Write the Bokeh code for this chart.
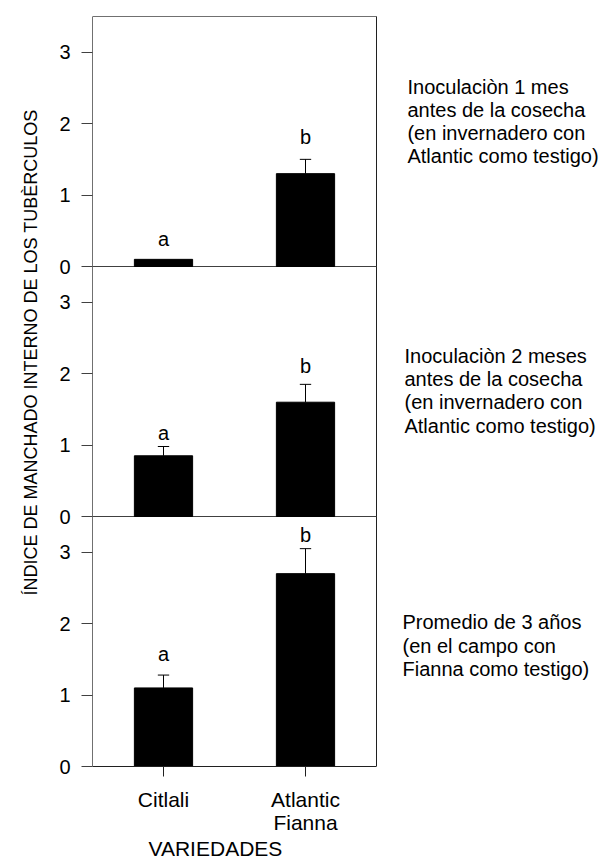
import math
from bokeh.plotting import figure
from bokeh.models import FixedTicker, Label, Range1d, Title
from bokeh.embed import file_html
from bokeh.resources import INLINE

# ---------------- data ----------------
varieties = ["Citlali", "Atlantic\nFianna"]
# panel order: top, middle, bottom
panel_titles = [
    ["Inoculaciòn 1 mes", "antes de la cosecha", "(en invernadero con", "Atlantic como testigo)"],
    ["Inoculaciòn 2 meses", "antes de la cosecha", "(en invernadero con", "Atlantic como testigo)"],
    ["Promedio de 3 años", "(en el campo con", "Fianna como testigo)"],
]
means = [
    [0.10, 1.30],
    [0.85, 1.60],
    [1.10, 2.70],
]
errors = [
    [0.00, 0.20],
    [0.13, 0.25],
    [0.18, 0.35],
]
letters = [["a", "b"], ["a", "b"], ["a", "b"]]
letter_y = [
    [0.38, 1.82],
    [1.17, 2.11],
    [1.58, 3.24],
]
y_ticks = [0, 1, 2, 3]
y_label = "ÍNDICE DE MANCHADO INTERNO DE LOS TUBÈRCULOS"
x_label = "VARIEDADES"

# ---------------- layout ----------------
FONT = "Liberation Sans"
W, H = 610, 857
LEFT, TOP, BOTTOM = 92, 8, 766          # frame edges in px
PX_X = 142.0                            # px per x unit
PANEL_SPAN = 3.5
n_panels = len(means)
PX_Y = (BOTTOM - 16) / (PANEL_SPAN * n_panels)
offsets = [PANEL_SPAN * (n_panels - 1 - i) for i in range(n_panels)]
y_top = PANEL_SPAN * n_panels
x_pos = [0.5, 1.5]
x_end = 2.0
bar_w = 0.41
cap_half = 0.04

p = figure(frame_width=W - LEFT, frame_height=BOTTOM - TOP,
           output_backend="svg", toolbar_location=None,
           x_range=Range1d(0, (W - LEFT) / PX_X),
           y_range=Range1d(0, (BOTTOM - TOP) / PX_Y),
           min_border_left=LEFT, min_border_right=0, min_border_top=TOP,
           min_border_bottom=H - BOTTOM)
p.xgrid.visible = False
p.ygrid.visible = False
p.outline_line_color = None
p.background_fill_color = "white"
p.border_fill_color = "white"

# y axis ticks repeated for each panel
ticks = []
overrides = {}
for off in offsets:
    for t in y_ticks:
        v = off + t
        ticks.append(v)
        overrides[v] = str(t)
p.yaxis.ticker = FixedTicker(ticks=ticks)
p.yaxis.major_label_overrides = overrides
p.yaxis.bounds = (0, y_top)
p.yaxis.minor_tick_line_color = None
p.yaxis.major_tick_out = 11
p.yaxis.major_tick_in = 0
p.yaxis.major_tick_line_color = "#404040"
p.yaxis.axis_line_color = "#707070"
p.yaxis.major_label_standoff = 11
p.yaxis.major_label_text_font = FONT
p.yaxis.major_label_text_font_size = "20px"
p.yaxis.major_label_text_color = "black"

p.xaxis.ticker = FixedTicker(ticks=x_pos)
p.xaxis.major_label_overrides = {x: lab for x, lab in zip(x_pos, varieties)}
p.xaxis.bounds = (0, x_end)
p.xaxis.minor_tick_line_color = None
p.xaxis.major_tick_out = 10
p.xaxis.major_tick_in = 0
p.xaxis.major_tick_line_color = "#202020"
p.xaxis.axis_line_color = "#202020"
p.xaxis.major_label_standoff = 11
p.xaxis.major_label_text_font = FONT
p.xaxis.major_label_text_font_size = "21px"
p.xaxis.major_label_text_color = "black"
p.xaxis.major_label_text_line_height = 1.0

# box: top line, right line, panel separators
p.segment(x0=[0], y0=[y_top], x1=[x_end], y1=[y_top], line_color="#707070", line_width=1)
p.segment(x0=[x_end], y0=[0], x1=[x_end], y1=[y_top], line_color="#202020", line_width=1)
seps = [off for off in offsets if off > 0]
p.segment(x0=[0] * len(seps), y0=seps, x1=[x_end] * len(seps), y1=seps,
          line_color="#404040", line_width=1)

for i, off in enumerate(offsets):
    tops = [off + m for m in means[i]]
    p.vbar(x=x_pos, width=bar_w, bottom=off, top=tops, fill_color="black", line_color="black")
    ex, ey0, ey1 = [], [], []
    for x, m, e in zip(x_pos, means[i], errors[i]):
        if e > 0:
            ex.append(x); ey0.append(off + m); ey1.append(off + m + e)
    if ex:
        p.segment(x0=ex, y0=ey0, x1=ex, y1=ey1, line_color="black", line_width=1)
        p.segment(x0=[x - cap_half for x in ex], y0=ey1, x1=[x + cap_half for x in ex], y1=ey1,
                  line_color="black", line_width=1)
    for x, lt, ly in zip(x_pos, letters[i], letter_y[i]):
        p.add_layout(Label(x=x, y=off + ly, text=lt, text_font=FONT, text_font_size="20px",
                           text_align="center", text_baseline="middle", text_color="black"))

# panel descriptions at right
desc_x = [2.218, 2.197, 2.183]
desc_y = [2.52, 2.25, 2.02]
line_gap = 23.3
for i, off in enumerate(offsets):
    for j, line in enumerate(panel_titles[i]):
        p.add_layout(Label(x=desc_x[i], y=off + desc_y[i], y_offset=-line_gap * j, text=line,
                           text_font=FONT, text_font_size="20px", text_align="left",
                           text_baseline="alphabetic", text_color="black"))

# axis titles
p.add_layout(Title(text=y_label, align="left", offset=171, text_font=FONT,
                   text_font_size="18px", text_font_style="normal", text_color="black",
                   standoff=31), "left")
p.add_layout(Title(text=x_label, align="left", offset=56, text_font=FONT,
                   text_font_size="21px", text_font_style="normal", text_color="black",
                   vertical_align="top", text_line_height=1.0, standoff=0), "below")

open("out.html", "w").write(file_html(p, INLINE))
